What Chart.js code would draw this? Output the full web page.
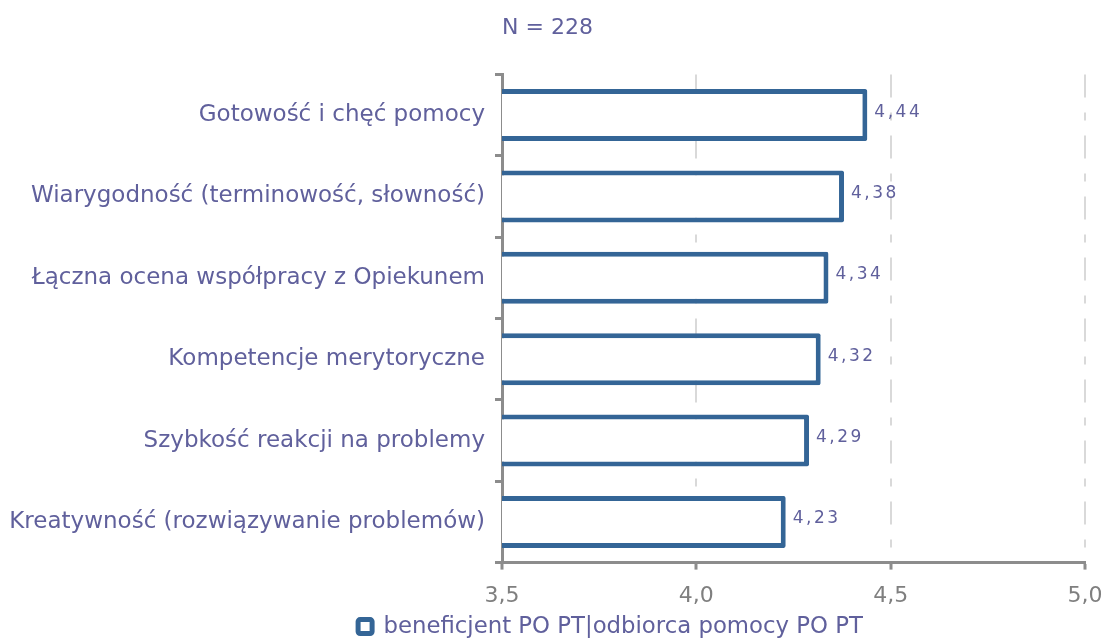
<!DOCTYPE html>
<html lang="pl">
<head>
<meta charset="UTF-8">
<title>Ocena współpracy z Opiekunem</title>
<script src="https://cdn.jsdelivr.net/npm/chart.js"></script>
<style>
  html, body { margin: 0; padding: 0; background: #fff; }
  #wrap { width: 1103px; height: 639px; position: relative; }
</style>
</head>
<body>
<div id="wrap"><canvas id="chart"></canvas></div>
<script>
// data
const categories = [
    'Gotowość i chęć pomocy',
    'Wiarygodność (terminowość, słowność)',
    'Łączna ocena współpracy z Opiekunem',
    'Kompetencje merytoryczne',
    'Szybkość reakcji na problemy',
    'Kreatywność (rozwiązywanie problemów)'
];
const values = [4.44, 4.38, 4.34, 4.32, 4.29, 4.23];
const xTicks = [3.5, 4.0, 4.5, 5.0];
const seriesLabel = 'beneficjent PO PT|odbiorca pomocy PO PT';
const sampleTitle = 'N = 228';

const FONT = '"DejaVu Sans", Verdana, sans-serif';
const TEXT = '#60609c';
const AXIS = '#8c8c8c';
const BLUE = '#346596';

const fmt = v => v.toFixed(2).replace('.', ',');

// value labels to the right of each bar
const valueLabels = {
    id: 'valueLabels',
    afterDatasetsDraw(chart) {
        const ctx = chart.ctx;
        const meta = chart.getDatasetMeta(0);
        ctx.save();
        ctx.font = '17px ' + FONT;
        ctx.fillStyle = TEXT;
        ctx.textAlign = 'left';
        ctx.textBaseline = 'middle';
        ctx.letterSpacing = '2.5px';
        meta.data.forEach((bar, i) => {
            ctx.fillText(fmt(values[i]), bar.x + 7, bar.y - 3);
        });
        ctx.restore();
    }
};

// legend in the reference sits left of centre and close to the bottom edge
const legendShift = {
    id: 'legendShift',
    afterLayout(chart) {
        const lg = chart.legend;
        lg.left += 63;
        lg.right += 63;
        lg.top += 9;
        lg.bottom += 9;
    }
};

new Chart(document.getElementById('chart'), {
    type: 'bar',
    data: {
        labels: categories,
        datasets: [{
            label: seriesLabel,
            data: values,
            backgroundColor: '#ffffff',
            borderColor: BLUE,
            borderWidth: 5,
            borderSkipped: false,
            borderRadius: 2,
            barPercentage: 0.64,
            categoryPercentage: 1
        }]
    },
    options: {
        indexAxis: 'y',
        responsive: true,
        maintainAspectRatio: false,
        animation: false,
        layout: { padding: { left: 10, right: 18, top: 10, bottom: 0 } },
        plugins: {
            title: {
                display: true,
                text: sampleTitle,
                color: TEXT,
                font: { family: FONT, size: 22, weight: 'normal' },
                padding: { top: 5, bottom: 33 }
            },
            legend: {
                position: 'bottom',
                labels: {
                    color: TEXT,
                    font: { family: FONT, size: 22.8 },
                    boxWidth: 14,
                    boxHeight: 14,
                    useBorderRadius: true,
                    borderRadius: 2,
                    padding: 1,
                    generateLabels(chart) {
                        const items = Chart.defaults.plugins.legend.labels.generateLabels(chart);
                        items.forEach(it => { it.lineWidth = 5; });
                        return items;
                    }
                }
            },
            tooltip: { enabled: false }
        },
        scales: {
            x: {
                min: 3.5,
                max: 5.0,
                afterBuildTicks(scale) {
                    scale.ticks = xTicks.map(v => ({ value: v }));
                },
                afterFit(scale) {
                    scale.height = 42.6;
                    scale.paddingRight = 0;
                },
                ticks: {
                    color: '#7f7f7f',
                    font: { family: FONT, size: 22 },
                    padding: 13,
                    callback: v => Number(v).toFixed(1).replace('.', ',')
                },
                grid: {
                    color: '#d9d9d9',
                    lineWidth: 2,
                    tickColor: AXIS,
                    tickLength: 7,
                    tickWidth: 3
                },
                border: { display: true, color: AXIS, width: 3, dash: [23, 15, 8, 15] }
            },
            y: {
                afterFit(scale) { scale.width = 492; },
                ticks: {
                    color: TEXT,
                    font: { family: FONT, size: 23 },
                    padding: 10
                },
                grid: {
                    offset: true,
                    drawOnChartArea: false,
                    tickColor: AXIS,
                    tickLength: 7,
                    tickWidth: 3
                },
                border: { display: true, color: AXIS, width: 3 }
            }
        }
    },
    plugins: [valueLabels, legendShift]
});
</script>
</body>
</html>
